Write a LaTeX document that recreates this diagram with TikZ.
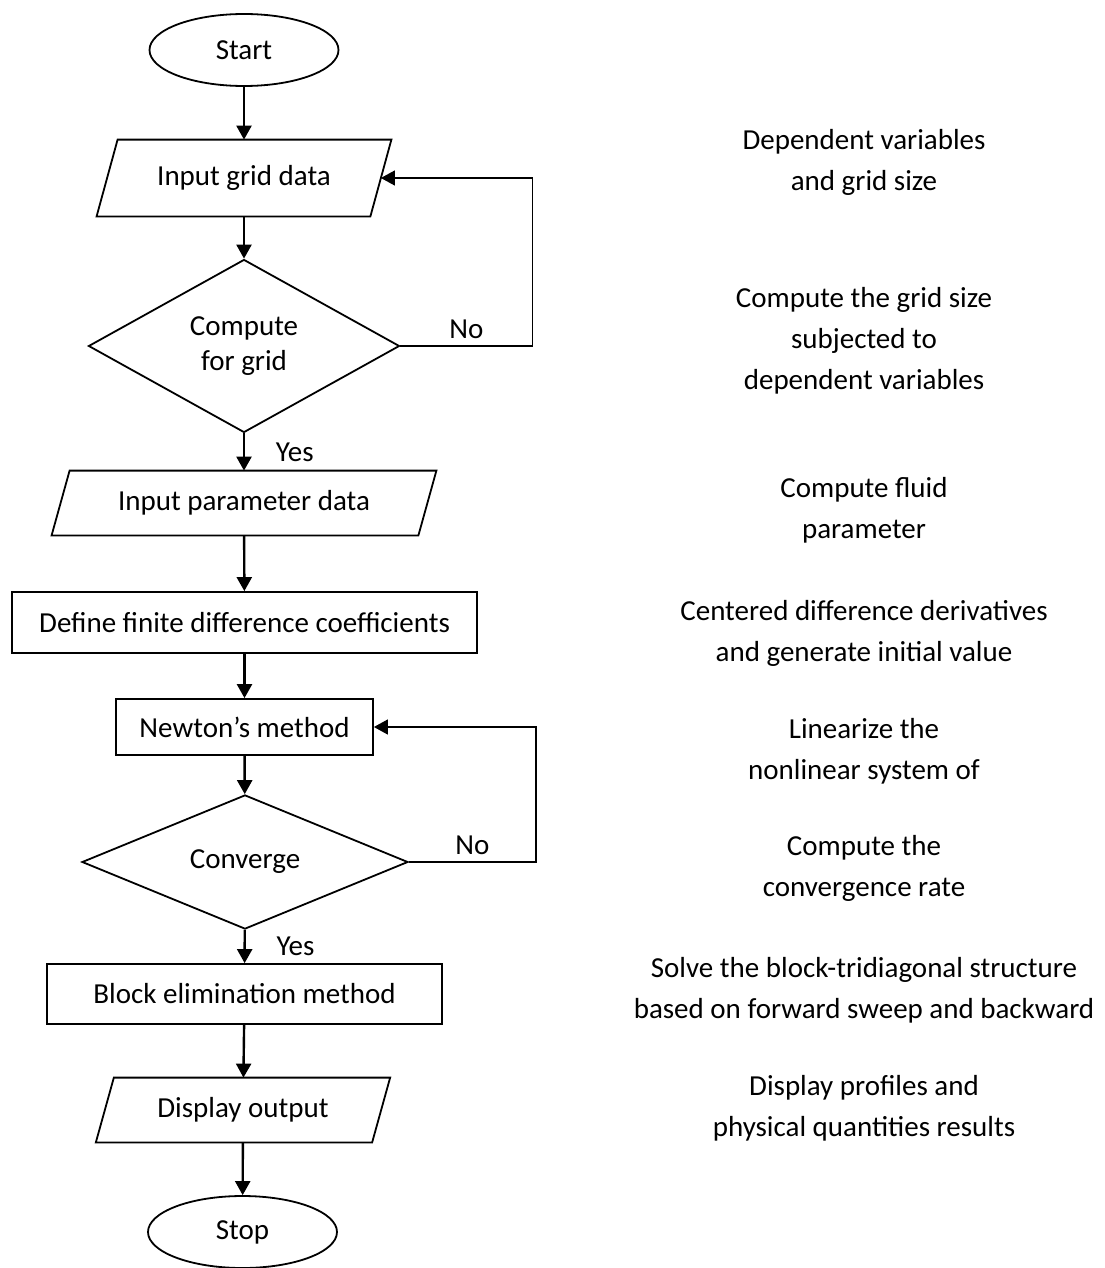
\documentclass[tikz,border=0pt]{standalone}
\usepackage{fontspec}
\setmainfont{Carlito}
\usetikzlibrary{shapes.geometric,arrows.meta}

\begin{document}
\begin{tikzpicture}[x=0.5pt,y=-0.5pt,
   every node/.style={font=\fontsize{14.5}{20.5}\selectfont},
   term/.style={draw,line width=0.9pt,ellipse,minimum width=94.5pt,minimum height=36pt,inner sep=0pt},
   io/.style={rectangle,inner sep=0pt,
      append after command={\pgfextra{\draw[line width=0.9pt]
         ([xshift=-#1]\tikzlastnode.south west) -- ([xshift=-#1]\tikzlastnode.south east)
         -- ([xshift=#1]\tikzlastnode.north east) -- ([xshift=#1]\tikzlastnode.north west) -- cycle;}}},
   io/.default=5pt,
   proc/.style={draw,line width=0.9pt,rectangle,inner sep=0pt},
   decision/.style={draw,line width=0.9pt,diamond,inner sep=0pt,align=center},
   flow/.style={-{Triangle[width=7.5pt,length=7pt]},line width=1.2pt},
   back/.style={-{Triangle[width=7.5pt,length=7pt]},line width=0.7pt},
   note/.style={align=center}]
   \useasboundingbox (0,0) rectangle (1104,1268);
   % flow chart
   \node[term] (start) at (244,50) {Start};
   \node[io=5.25pt,minimum width=136.5pt,minimum height=38pt] (ingrid) at (244,178) {Input grid data};
   \node[decision,minimum width=155.5pt,minimum height=86.5pt,
      font=\fontsize{14.5}{17.5}\selectfont] (grid) at (244,346) {Compute\\for grid};
   \node[io=4.5pt,minimum width=183pt,minimum height=32pt] (inparam) at (244,503) {Input parameter data};
   \node[proc,minimum width=232.5pt,minimum height=30.5pt] (fdcoef) at (244.5,622.5) {Define finite difference coefficients};
   \node[proc,minimum width=128.5pt,minimum height=28pt] (newton) at (244.5,727) {Newton's method};
   \node[decision,minimum width=163pt,minimum height=51pt] (conv) at (245,862) {Converge};
   \node[proc,minimum width=197.5pt,minimum height=30pt] (block) at (244.5,994) {Block elimination method};
   \node[io=4.5pt,minimum width=137.75pt,minimum height=32pt] (output) at (243,1110) {Display output};
   \node[term] (stop) at (242.5,1232) {Stop};
   % connectors
   \draw[flow] (start) -- (ingrid);
   \draw[flow] (ingrid) -- (grid);
   \draw[back] (grid.east) -- node[above]{No} ++(132,0) |- (ingrid);
   \draw[flow] (grid) -- node[right,xshift=12pt]{Yes} (inparam);
   \draw[flow] (inparam) -- (fdcoef);
   \draw[flow] (fdcoef) -- (newton);
   \draw[flow] (newton) -- (conv);
   \draw[back] (conv.east) -- node[above]{No} ++(127,0) |- (newton);
   \draw[flow] (conv) -- node[right,xshift=12pt]{Yes} (block);
   \draw[flow] (block) -- (output);
   \draw[flow] (output) -- (stop);
   % notes
   \node[note] (n1) at (864,162.5) {Dependent variables\\and grid size};
   \node[note] (n2) at (864,341) {Compute the grid size\\subjected to\\dependent variables};
   \node[note] (n3) at (864,510) {Compute fluid\\parameter};
   \node[note] (n4) at (864,633) {Centered difference derivatives\\and generate initial value};
   \node[note] (n5) at (864,751) {Linearize the\\nonlinear system of};
   \node[note] (n6) at (864,868.5) {Compute the\\convergence rate};
   \node[note] (n7) at (864,990.5) {Solve the block-tridiagonal structure\\based on forward sweep and backward};
   \node[note] (n8) at (864,1108.5) {Display profiles and\\physical quantities results};
\end{tikzpicture}
\end{document}
